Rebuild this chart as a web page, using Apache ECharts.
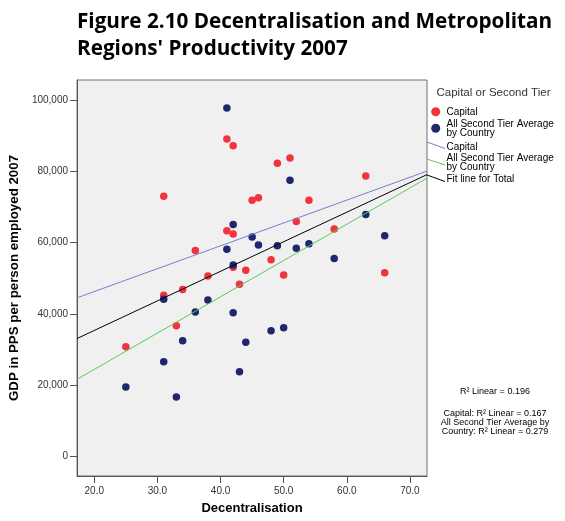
<!DOCTYPE html>
<html><head><meta charset="utf-8">
<script src="https://cdn.jsdelivr.net/npm/echarts@6/dist/echarts.min.js"></script>
<style>html,body{margin:0;padding:0;background:#fff}#c{width:565px;height:521px}</style>
</head><body><div id="c"></div>
<script>
// ---- data ----
const capitalX = [41, 42, 31, 45, 41, 42, 36, 42, 44, 38, 43, 49, 51, 63, 46, 54, 52, 58, 48, 50, 66, 31, 34, 33, 25];
const capitalY = [89100, 87200, 73000, 71900, 63300, 62400, 57800, 53100, 52200, 50600, 48300, 82300, 83800, 78700, 72600, 71900, 65900, 63800, 55200, 50900, 51500, 45200, 46800, 36600, 30700];
const secondX = [41, 42, 45, 41, 42, 51, 63, 66, 46, 49, 52, 54, 58, 31, 38, 36, 42, 34, 44, 31, 43, 25, 33, 48, 50];
const secondY = [97800, 65100, 61600, 58100, 53700, 77500, 67900, 61900, 59300, 59100, 58400, 59700, 55500, 44100, 43900, 40500, 40300, 32400, 32000, 26500, 23700, 19400, 16600, 35200, 36100];
const xTicks = [20, 30, 40, 50, 60, 70];
const yTicks = [0, 20000, 40000, 60000, 80000, 100000];
const xRange = [17.27, 72.7];
const yRange = [-5600, 105700];
const titleLines = ["Figure 2.10 Decentralisation and Metropolitan", "Regions' Productivity 2007"];
const xName = "Decentralisation";
const yName = "GDP in PPS per person employed 2007";
const legendTitle = "Capital or Second Tier";
const groupNames = ["Capital", "All Second Tier Average\nby Country"];
const fitNames = ["Capital", "All Second Tier Average\nby Country", "Fit line for Total"];
const r2Total = "R\u00B2 Linear = 0.196";
const r2Groups = "Capital: R\u00B2 Linear = 0.167\nAll Second Tier Average by\nCountry: R\u00B2 Linear = 0.279";

// ---- helpers ----
function pairs(xs, ys) { return xs.map((x, i) => [x, ys[i]]); }
function fitLine(xs, ys) {
  const n = xs.length;
  const mx = xs.reduce((a, b) => a + b, 0) / n;
  const my = ys.reduce((a, b) => a + b, 0) / n;
  let sxy = 0, sxx = 0;
  for (let i = 0; i < n; i++) { sxy += (xs[i] - mx) * (ys[i] - my); sxx += (xs[i] - mx) ** 2; }
  const b = sxy / sxx, a = my - b * mx;
  return xRange.map(x => [x, a + b * x]);
}

const RED = '#f2333d', NAVY = '#20266e', BLUE = '#6f82cf', GREEN = '#5cc85c', BLACK = '#000';
const FONT = 'Liberation Sans';

const chart = echarts.init(document.getElementById('c'), null, { renderer: 'canvas' });
chart.setOption({
  animation: false,
  backgroundColor: '#fff',
  grid: { left: 75, right: 138, top: 80, bottom: 45, show: true, backgroundColor: '#f0f0f0', borderColor: '#707070', borderWidth: 1 },
  xAxis: {
    type: 'value', min: xRange[0], max: xRange[1],
    splitLine: { show: false },
    axisLine: { show: true, onZero: false, lineStyle: { color: '#555', width: 1 } },
    axisTick: { show: true, length: 7, customValues: xTicks, lineStyle: { color: '#555' } },
    axisLabel: { customValues: xTicks, formatter: v => v.toFixed(1), fontSize: 10, color: '#333', margin: 10, fontFamily: FONT },
    name: xName, nameLocation: 'middle', nameGap: 26,
    nameTextStyle: { fontWeight: 'bold', fontSize: 13, color: '#000', fontFamily: FONT }
  },
  yAxis: {
    type: 'value', min: yRange[0], max: yRange[1],
    splitLine: { show: false },
    axisLine: { show: true, onZero: false, lineStyle: { color: '#555', width: 1 } },
    axisTick: { show: true, length: 7, customValues: yTicks, lineStyle: { color: '#555' } },
    axisLabel: { customValues: yTicks, formatter: v => v.toLocaleString('en-US'), fontSize: 10, color: '#333', margin: 9, fontFamily: FONT },
    name: yName, nameLocation: 'middle', nameRotate: 90, nameGap: 47,
    nameTextStyle: { fontWeight: 'bold', fontSize: 13.3, color: '#000', fontFamily: FONT }
  },
  series: [
    { type: 'scatter', name: 'Capital', data: pairs(capitalX, capitalY), symbolSize: 7.5, itemStyle: { color: RED, opacity: 1 }, z: 3 },
    { type: 'scatter', name: 'Second', data: pairs(secondX, secondY), symbolSize: 7.5, itemStyle: { color: NAVY, opacity: 1 }, z: 4 },
    { type: 'line', data: fitLine(capitalX, capitalY), symbol: 'none', lineStyle: { color: BLUE, width: 1 }, z: 5, silent: true },
    { type: 'line', data: fitLine(secondX, secondY), symbol: 'none', lineStyle: { color: GREEN, width: 1 }, z: 5, silent: true },
    { type: 'line', data: fitLine(capitalX.concat(secondX), capitalY.concat(secondY)), symbol: 'none', lineStyle: { color: BLACK, width: 1 }, z: 5, silent: true }
  ],
  graphic: [
    { type: 'text', left: 77, top: 12, style: { text: titleLines[0], font: 'bold 20.7px "Open Sans"', fill: '#000' } },
    { type: 'text', left: 77, top: 39, style: { text: titleLines[1], font: 'bold 20.7px "Open Sans"', fill: '#000' } },
    // legend
    { type: 'text', x: 436.5, y: 93.3, style: { text: legendTitle, fontFamily: FONT, fontSize: 11.5, fill: '#333', verticalAlign: 'middle' } },
    { type: 'circle', shape: { cx: 435.7, cy: 111.7, r: 4.5 }, style: { fill: RED } },
    { type: 'text', x: 446.5, y: 112, style: { text: groupNames[0], fontFamily: FONT, fontSize: 10, fill: '#000', verticalAlign: 'middle' } },
    { type: 'circle', shape: { cx: 435.7, cy: 128.3, r: 4.5 }, style: { fill: NAVY } },
    { type: 'text', x: 446.5, y: 128.8, style: { text: groupNames[1], fontFamily: FONT, fontSize: 10, lineHeight: 9, fill: '#000', verticalAlign: 'middle' } },
    { type: 'line', shape: { x1: 427, y1: 142, x2: 445, y2: 148.5 }, style: { stroke: BLUE, lineWidth: 1 } },
    { type: 'text', x: 446.5, y: 147, style: { text: fitNames[0], fontFamily: FONT, fontSize: 10, fill: '#000', verticalAlign: 'middle' } },
    { type: 'line', shape: { x1: 427, y1: 159, x2: 445, y2: 165 }, style: { stroke: GREEN, lineWidth: 1 } },
    { type: 'text', x: 446.5, y: 163, style: { text: fitNames[1], fontFamily: FONT, fontSize: 10, lineHeight: 9.4, fill: '#000', verticalAlign: 'middle' } },
    { type: 'line', shape: { x1: 427, y1: 175, x2: 445, y2: 181.5 }, style: { stroke: BLACK, lineWidth: 1 } },
    { type: 'text', x: 446.5, y: 179.3, style: { text: fitNames[2], fontFamily: FONT, fontSize: 10, fill: '#000', verticalAlign: 'middle' } },
    // R2 notes
    { type: 'text', x: 495, y: 391.7, style: { text: r2Total, fontFamily: FONT, fontSize: 9, fill: '#000', align: 'center', verticalAlign: 'middle' } },
    { type: 'text', x: 495, y: 422.3, style: { text: r2Groups, fontFamily: FONT, fontSize: 9, lineHeight: 9, fill: '#000', align: 'center', verticalAlign: 'middle' } }
  ]
});
</script></body></html>
